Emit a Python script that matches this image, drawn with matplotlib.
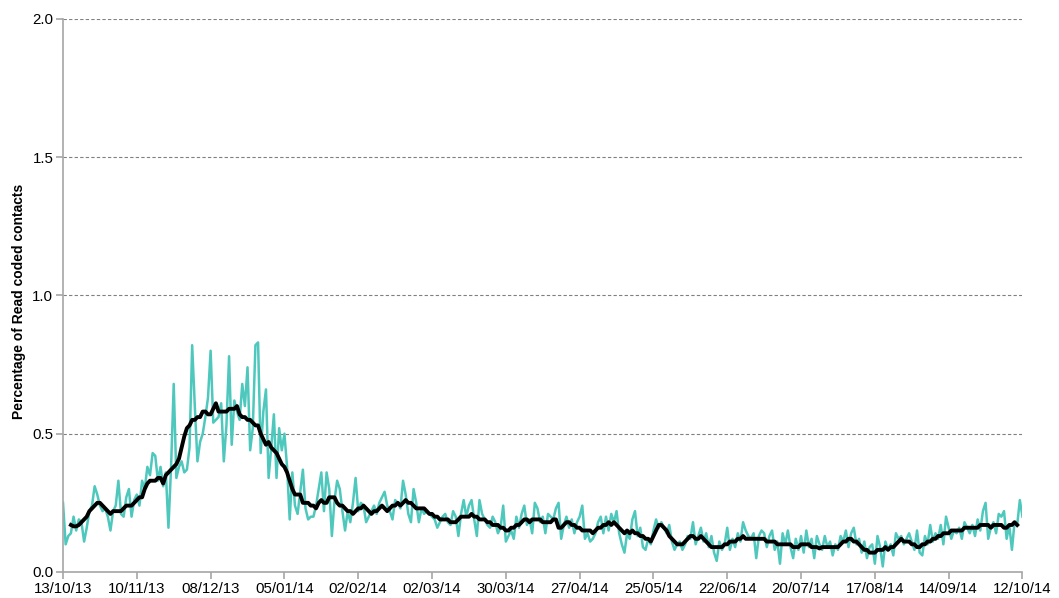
import matplotlib
matplotlib.use('Agg')
import matplotlib.pyplot as plt
import numpy as np

plt.rcParams['font.family'] = ['Liberation Sans', 'DejaVu Sans']

# daily percentage (13/10/13 .. 12/10/14), one row per week
daily = [
    0.25, 0.10, 0.13, 0.14, 0.20, 0.15, 0.19,
    0.18, 0.11, 0.16, 0.22, 0.24, 0.31, 0.28,
    0.24, 0.22, 0.23, 0.20, 0.15, 0.22, 0.24,
    0.33, 0.21, 0.20, 0.27, 0.30, 0.20, 0.26,
    0.28, 0.24, 0.33, 0.30, 0.38, 0.35, 0.43,
    0.42, 0.33, 0.38, 0.31, 0.36, 0.16, 0.38,
    0.68, 0.34, 0.38, 0.40, 0.36, 0.37, 0.45,
    0.82, 0.60, 0.40, 0.47, 0.50, 0.56, 0.63,
    0.80, 0.54, 0.55, 0.56, 0.61, 0.40, 0.53,
    0.78, 0.46, 0.62, 0.58, 0.55, 0.68, 0.60,
    0.74, 0.44, 0.52, 0.82, 0.83, 0.43, 0.58,
    0.66, 0.34, 0.45, 0.57, 0.34, 0.52, 0.44,
    0.50, 0.38, 0.19, 0.36, 0.24, 0.21, 0.29,
    0.37, 0.23, 0.19, 0.20, 0.20, 0.24, 0.30,
    0.36, 0.22, 0.36, 0.30, 0.13, 0.26, 0.33,
    0.30, 0.22, 0.15, 0.22, 0.18, 0.25, 0.34,
    0.22, 0.25, 0.24, 0.18, 0.20, 0.22, 0.24,
    0.21, 0.25, 0.27, 0.29, 0.24, 0.22, 0.19,
    0.26, 0.25, 0.23, 0.33, 0.28, 0.21, 0.18,
    0.30, 0.25, 0.18, 0.23, 0.21, 0.22, 0.21,
    0.20, 0.19, 0.16, 0.18, 0.20, 0.21, 0.18,
    0.17, 0.22, 0.20, 0.13, 0.21, 0.26, 0.20,
    0.24, 0.26, 0.19, 0.13, 0.26, 0.21, 0.19,
    0.17, 0.16, 0.20, 0.18, 0.14, 0.16, 0.24,
    0.11, 0.13, 0.15, 0.12, 0.20, 0.16, 0.21,
    0.24, 0.17, 0.19, 0.14, 0.25, 0.23, 0.18,
    0.20, 0.14, 0.21, 0.20, 0.19, 0.23, 0.25,
    0.12, 0.17, 0.20, 0.16, 0.19, 0.14, 0.18,
    0.20, 0.24, 0.12, 0.14, 0.11, 0.12, 0.14,
    0.18, 0.20, 0.14, 0.20, 0.15, 0.21, 0.18,
    0.22, 0.14, 0.10, 0.07, 0.14, 0.12, 0.19,
    0.22, 0.13, 0.16, 0.09, 0.08, 0.12, 0.10,
    0.15, 0.19, 0.16, 0.18, 0.16, 0.14, 0.17,
    0.11, 0.08, 0.10, 0.11, 0.08, 0.10, 0.13,
    0.12, 0.18, 0.10, 0.13, 0.16, 0.11, 0.14,
    0.09, 0.13, 0.07, 0.04, 0.11, 0.08, 0.10,
    0.16, 0.08, 0.12, 0.09, 0.14, 0.11, 0.18,
    0.15, 0.13, 0.12, 0.14, 0.05, 0.13, 0.15,
    0.14, 0.09, 0.13, 0.15, 0.08, 0.11, 0.03,
    0.14, 0.10, 0.15, 0.09, 0.05, 0.12, 0.08,
    0.13, 0.07, 0.15, 0.09, 0.12, 0.05, 0.13,
    0.10, 0.08, 0.13, 0.09, 0.11, 0.06, 0.10,
    0.08, 0.13, 0.11, 0.15, 0.09, 0.14, 0.16,
    0.10, 0.12, 0.07, 0.11, 0.05, 0.09, 0.10,
    0.03, 0.13, 0.09, 0.02, 0.11, 0.08, 0.10,
    0.06, 0.14, 0.12, 0.13, 0.10, 0.12, 0.14,
    0.11, 0.08, 0.15, 0.07, 0.06, 0.13, 0.10,
    0.17, 0.11, 0.14, 0.12, 0.17, 0.10, 0.20,
    0.16, 0.12, 0.15, 0.14, 0.16, 0.12, 0.18,
    0.16, 0.14, 0.17, 0.13, 0.19, 0.15, 0.22,
    0.25, 0.12, 0.16, 0.18, 0.14, 0.21, 0.20,
    0.22, 0.12, 0.17, 0.08, 0.18, 0.17, 0.26,
    0.20,
]

# smoothed line, starts on day 3
smooth_start = 3
smooth = [
    0.17, 0.165, 0.165, 0.17, 0.18, 0.19, 0.20,
    0.22, 0.23, 0.24, 0.25, 0.25, 0.24, 0.23,
    0.22, 0.21, 0.22, 0.22, 0.22, 0.22, 0.23,
    0.24, 0.24, 0.24, 0.25, 0.26, 0.27, 0.27,
    0.30, 0.32, 0.33, 0.33, 0.33, 0.34, 0.34,
    0.32, 0.35, 0.36, 0.37, 0.38, 0.39, 0.41,
    0.45, 0.49, 0.52, 0.53, 0.55, 0.55, 0.56,
    0.56, 0.58, 0.58, 0.57, 0.57, 0.59, 0.61,
    0.58, 0.58, 0.58, 0.58, 0.59, 0.59, 0.59,
    0.60, 0.57, 0.56, 0.56, 0.55, 0.55, 0.54,
    0.53, 0.53, 0.50, 0.48, 0.46, 0.47, 0.45,
    0.44, 0.43, 0.41, 0.39, 0.38, 0.36, 0.33,
    0.30, 0.28, 0.28, 0.28, 0.25, 0.25, 0.25,
    0.24, 0.24, 0.23, 0.25, 0.26, 0.25, 0.25,
    0.27, 0.27, 0.27, 0.25, 0.24, 0.24, 0.23,
    0.22, 0.22, 0.21, 0.22, 0.23, 0.23, 0.24,
    0.23, 0.22, 0.21, 0.22, 0.22, 0.23, 0.24,
    0.23, 0.22, 0.23, 0.24, 0.24, 0.25, 0.24,
    0.25, 0.26, 0.25, 0.25, 0.24, 0.23, 0.23,
    0.23, 0.23, 0.22, 0.21, 0.21, 0.20, 0.20,
    0.19, 0.19, 0.19, 0.19, 0.18, 0.18, 0.18,
    0.19, 0.20, 0.20, 0.20, 0.20, 0.21, 0.20,
    0.20, 0.19, 0.19, 0.19, 0.18, 0.18, 0.17,
    0.17, 0.17, 0.16, 0.16, 0.15, 0.15, 0.16,
    0.16, 0.17, 0.17, 0.18, 0.19, 0.19, 0.18,
    0.19, 0.19, 0.19, 0.19, 0.18, 0.18, 0.18,
    0.18, 0.19, 0.19, 0.16, 0.16, 0.17, 0.18,
    0.18, 0.17, 0.17, 0.16, 0.16, 0.15, 0.15,
    0.15, 0.15, 0.14, 0.15, 0.16, 0.16, 0.17,
    0.17, 0.18, 0.17, 0.18, 0.17, 0.16, 0.15,
    0.14, 0.15, 0.14, 0.15, 0.14, 0.14, 0.13,
    0.13, 0.12, 0.12, 0.11, 0.13, 0.15, 0.17,
    0.17, 0.16, 0.15, 0.13, 0.12, 0.11, 0.10,
    0.10, 0.10, 0.11, 0.12, 0.13, 0.13, 0.12,
    0.12, 0.13, 0.12, 0.11, 0.10, 0.09, 0.09,
    0.09, 0.09, 0.09, 0.10, 0.10, 0.11, 0.11,
    0.11, 0.12, 0.12, 0.13, 0.12, 0.12, 0.12,
    0.12, 0.12, 0.12, 0.12, 0.12, 0.11, 0.11,
    0.11, 0.11, 0.10, 0.10, 0.10, 0.10, 0.10,
    0.10, 0.09, 0.09, 0.09, 0.10, 0.10, 0.10,
    0.10, 0.09, 0.09, 0.09, 0.085, 0.09, 0.09,
    0.09, 0.09, 0.09, 0.09, 0.09, 0.10, 0.11,
    0.11, 0.12, 0.12, 0.11, 0.11, 0.10, 0.09,
    0.08, 0.08, 0.07, 0.07, 0.07, 0.08, 0.08,
    0.08, 0.09, 0.08, 0.09, 0.09, 0.10, 0.11,
    0.12, 0.11, 0.11, 0.11, 0.10, 0.10, 0.09,
    0.09, 0.10, 0.10, 0.11, 0.11, 0.12, 0.12,
    0.13, 0.13, 0.14, 0.14, 0.14, 0.15, 0.15,
    0.15, 0.15, 0.15, 0.16, 0.16, 0.16, 0.16,
    0.16, 0.16, 0.17, 0.17, 0.17, 0.17, 0.16,
    0.17, 0.17, 0.17, 0.17, 0.16, 0.16, 0.17,
    0.17, 0.18, 0.17,
]

tick_labels = ['13/10/13', '10/11/13', '08/12/13', '05/01/14', '02/02/14',
               '02/03/14', '30/03/14', '27/04/14', '25/05/14', '22/06/14',
               '20/07/14', '17/08/14', '14/09/14', '12/10/14']

days = np.arange(len(daily))
smooth_days = np.arange(smooth_start, smooth_start + len(smooth))

fig = plt.figure(figsize=(10.59, 5.98), dpi=100)
ax = fig.add_axes([0.0595, 0.0435, 0.906, 0.925])

ax.plot(days, daily, color='#4ec8bd', lw=1.8, zorder=2)
ax.plot(smooth_days, smooth, color='black', lw=2.8, zorder=3)

ax.set_xlim(0, 364)
ax.set_ylim(0, 2.0)
ax.set_xticks(np.arange(0, 365, 28))
ax.set_xticklabels(tick_labels, fontsize=10.8)
ax.set_yticks([0, 0.5, 1.0, 1.5, 2.0])
ax.set_yticklabels(['0.0', '0.5', '1.0', '1.5', '2.0'], fontsize=10.8)

for v in [0.5, 1.0, 1.5, 2.0]:
    ax.axhline(v, color='#808080', lw=0.8, ls=(0, (3, 2)), zorder=1)

for s in ['top', 'right']:
    ax.spines[s].set_visible(False)
for s in ['left', 'bottom']:
    ax.spines[s].set_color('#a6a6a6')
    ax.spines[s].set_linewidth(1.2)
ax.tick_params(axis='both', color='#a6a6a6', width=1.2, length=5, pad=2)
ax.spines['bottom'].set_zorder(4)

ax.set_ylabel('Percentage of Read coded contacts', fontsize=10,
              fontweight='bold')
ax.yaxis.set_label_coords(-0.039, 0.49)

fig.savefig('out.png', dpi=100)
